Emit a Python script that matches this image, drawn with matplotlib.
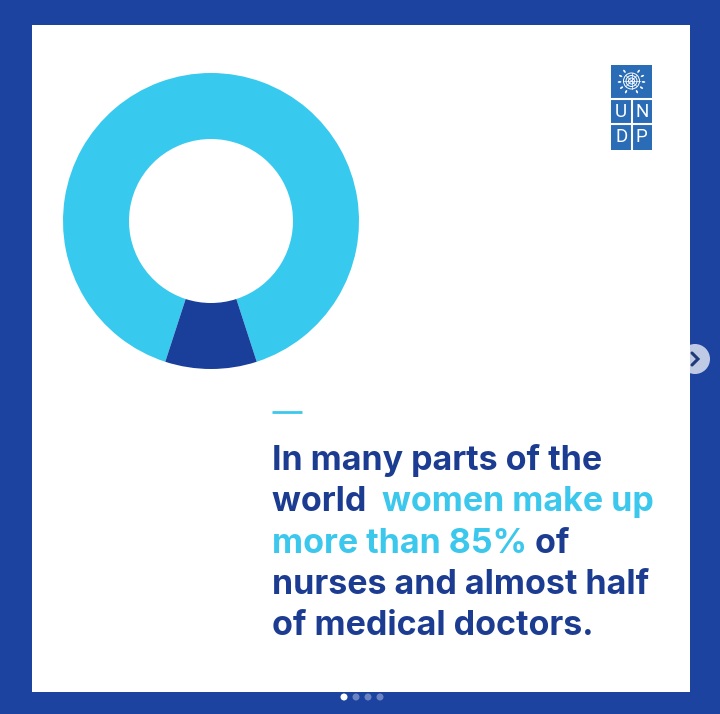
import numpy as np
import matplotlib
matplotlib.use("Agg")
from matplotlib import pyplot as plt
from matplotlib.patches import Rectangle, Circle, Ellipse

# chart data
labels = ["Women", "Men"]
shares = [90, 10]
donut_colors = ["#38c9ee", "#1a3f9b"]

headline = [
    [("In many parts of the", "dark")],
    [("world  ", "dark"), ("women make up", "light")],
    [("more than 85%", "light"), (" of", "dark")],
    [("nurses and almost half", "dark")],
    [("of medical doctors.", "dark")],
]
logo_letters = ["U", "N", "D", "P"]
n_dots = 4

BORDER = "#1c43a0"
DARK_TXT = "#1b3c90"
LIGHT_TXT = "#3cc7ed"
LOGO_BLUE = "#2a6cb5"
W, H = 720, 714

fig = plt.figure(figsize=(W / 100, H / 100), dpi=100)
fig.patch.set_facecolor(BORDER)

ax = fig.add_axes([0, 0, 1, 1])
ax.set_xlim(0, W)
ax.set_ylim(H, 0)
ax.axis("off")

# white card
ax.add_patch(Rectangle((32, 25), 658, 667, facecolor="white", edgecolor="none"))

# donut
cx, cy, r_out, r_in = 211, 221, 148, 82
pax = fig.add_axes([(cx - r_out) / W, 1 - (cy + r_out) / H, 2 * r_out / W, 2 * r_out / H])
pax.pie(shares, colors=donut_colors, startangle=-72, counterclock=True,
        wedgeprops=dict(width=(r_out - r_in) / r_out, edgecolor="none"))
pax.set_xlim(-1, 1)
pax.set_ylim(-1, 1)
pax.axis("off")

# small accent line
ax.plot([272, 302], [412, 412], color=LIGHT_TXT, lw=2, solid_capstyle="butt")

# headline text with mixed colours
font = dict(family=["Inter", "DejaVu Sans"], weight="bold", size=24.5)
renderer = fig.canvas.get_renderer()


def text_width(s):
    t = ax.text(0, 0, s, **font)
    w = t.get_window_extent(renderer).width
    t.remove()
    return w


bar_w = text_width("|")
x0, y0, step = 272, 470, 41.3
for i, line in enumerate(headline):
    prefix = ""
    for piece, tone in line:
        dx = text_width(prefix + "|") - bar_w if prefix else 0
        ax.text(x0 + dx, y0 + i * step, piece, va="baseline", ha="left",
                color=DARK_TXT if tone == "dark" else LIGHT_TXT, **font)
        prefix += piece

# UNDP logo
lx, ly, lw, lh = 611, 65, 41, 85
ax.add_patch(Rectangle((lx, ly), lw, lh, facecolor=LOGO_BLUE, edgecolor="none"))
ax.plot([lx, lx + lw], [ly + 34, ly + 34], color="white", lw=1.5)
ax.plot([lx, lx + lw], [ly + 59, ly + 59], color="white", lw=1.5)
ax.plot([lx + lw / 2, lx + lw / 2], [ly + 34, ly + lh], color="white", lw=1.5)
ex, ey = lx + lw / 2, ly + 16
for rr in (8, 5.5, 3):
    ax.add_patch(Circle((ex, ey), rr, facecolor="none", edgecolor="white", lw=0.7))
for a in np.linspace(0, np.pi, 4, endpoint=False):
    ax.plot([ex - 8 * np.cos(a), ex + 8 * np.cos(a)], [ey - 8 * np.sin(a), ey + 8 * np.sin(a)],
            color="white", lw=0.5)
for side in (-1, 1):
    for a in np.linspace(np.pi * 0.2, np.pi * 0.85, 5):
        px = ex + side * 12 * np.sin(a)
        py = ey - 12 * np.cos(a)
        ax.add_patch(Ellipse((px, py), 1.8, 3.6, angle=np.degrees(side * a), facecolor="white",
                             edgecolor="none"))
cell_pos = [(lx + lw / 4, ly + 47), (lx + 3 * lw / 4, ly + 47),
            (lx + lw / 4, ly + 72.5), (lx + 3 * lw / 4, ly + 72.5)]
for (tx, ty), letter in zip(cell_pos, logo_letters):
    ax.text(tx, ty, letter, color="white", ha="center", va="center",
            family=["Roboto", "DejaVu Sans"], weight="normal", size=13.5)

# carousel arrow
ax.add_patch(Circle((695, 359), 15, facecolor="white", alpha=0.72, edgecolor="none"))
ax.plot([692, 698, 692], [353, 359, 365], color="#1e3a7a", lw=2.2, solid_capstyle="round",
        solid_joinstyle="miter")

# pagination dots
for i in range(n_dots):
    ax.add_patch(Circle((344 + 12 * i, 697), 3.5, facecolor="white",
                        alpha=1.0 if i == 0 else 0.35, edgecolor="none"))

fig.savefig("out.png", dpi=100, facecolor=fig.get_facecolor())
